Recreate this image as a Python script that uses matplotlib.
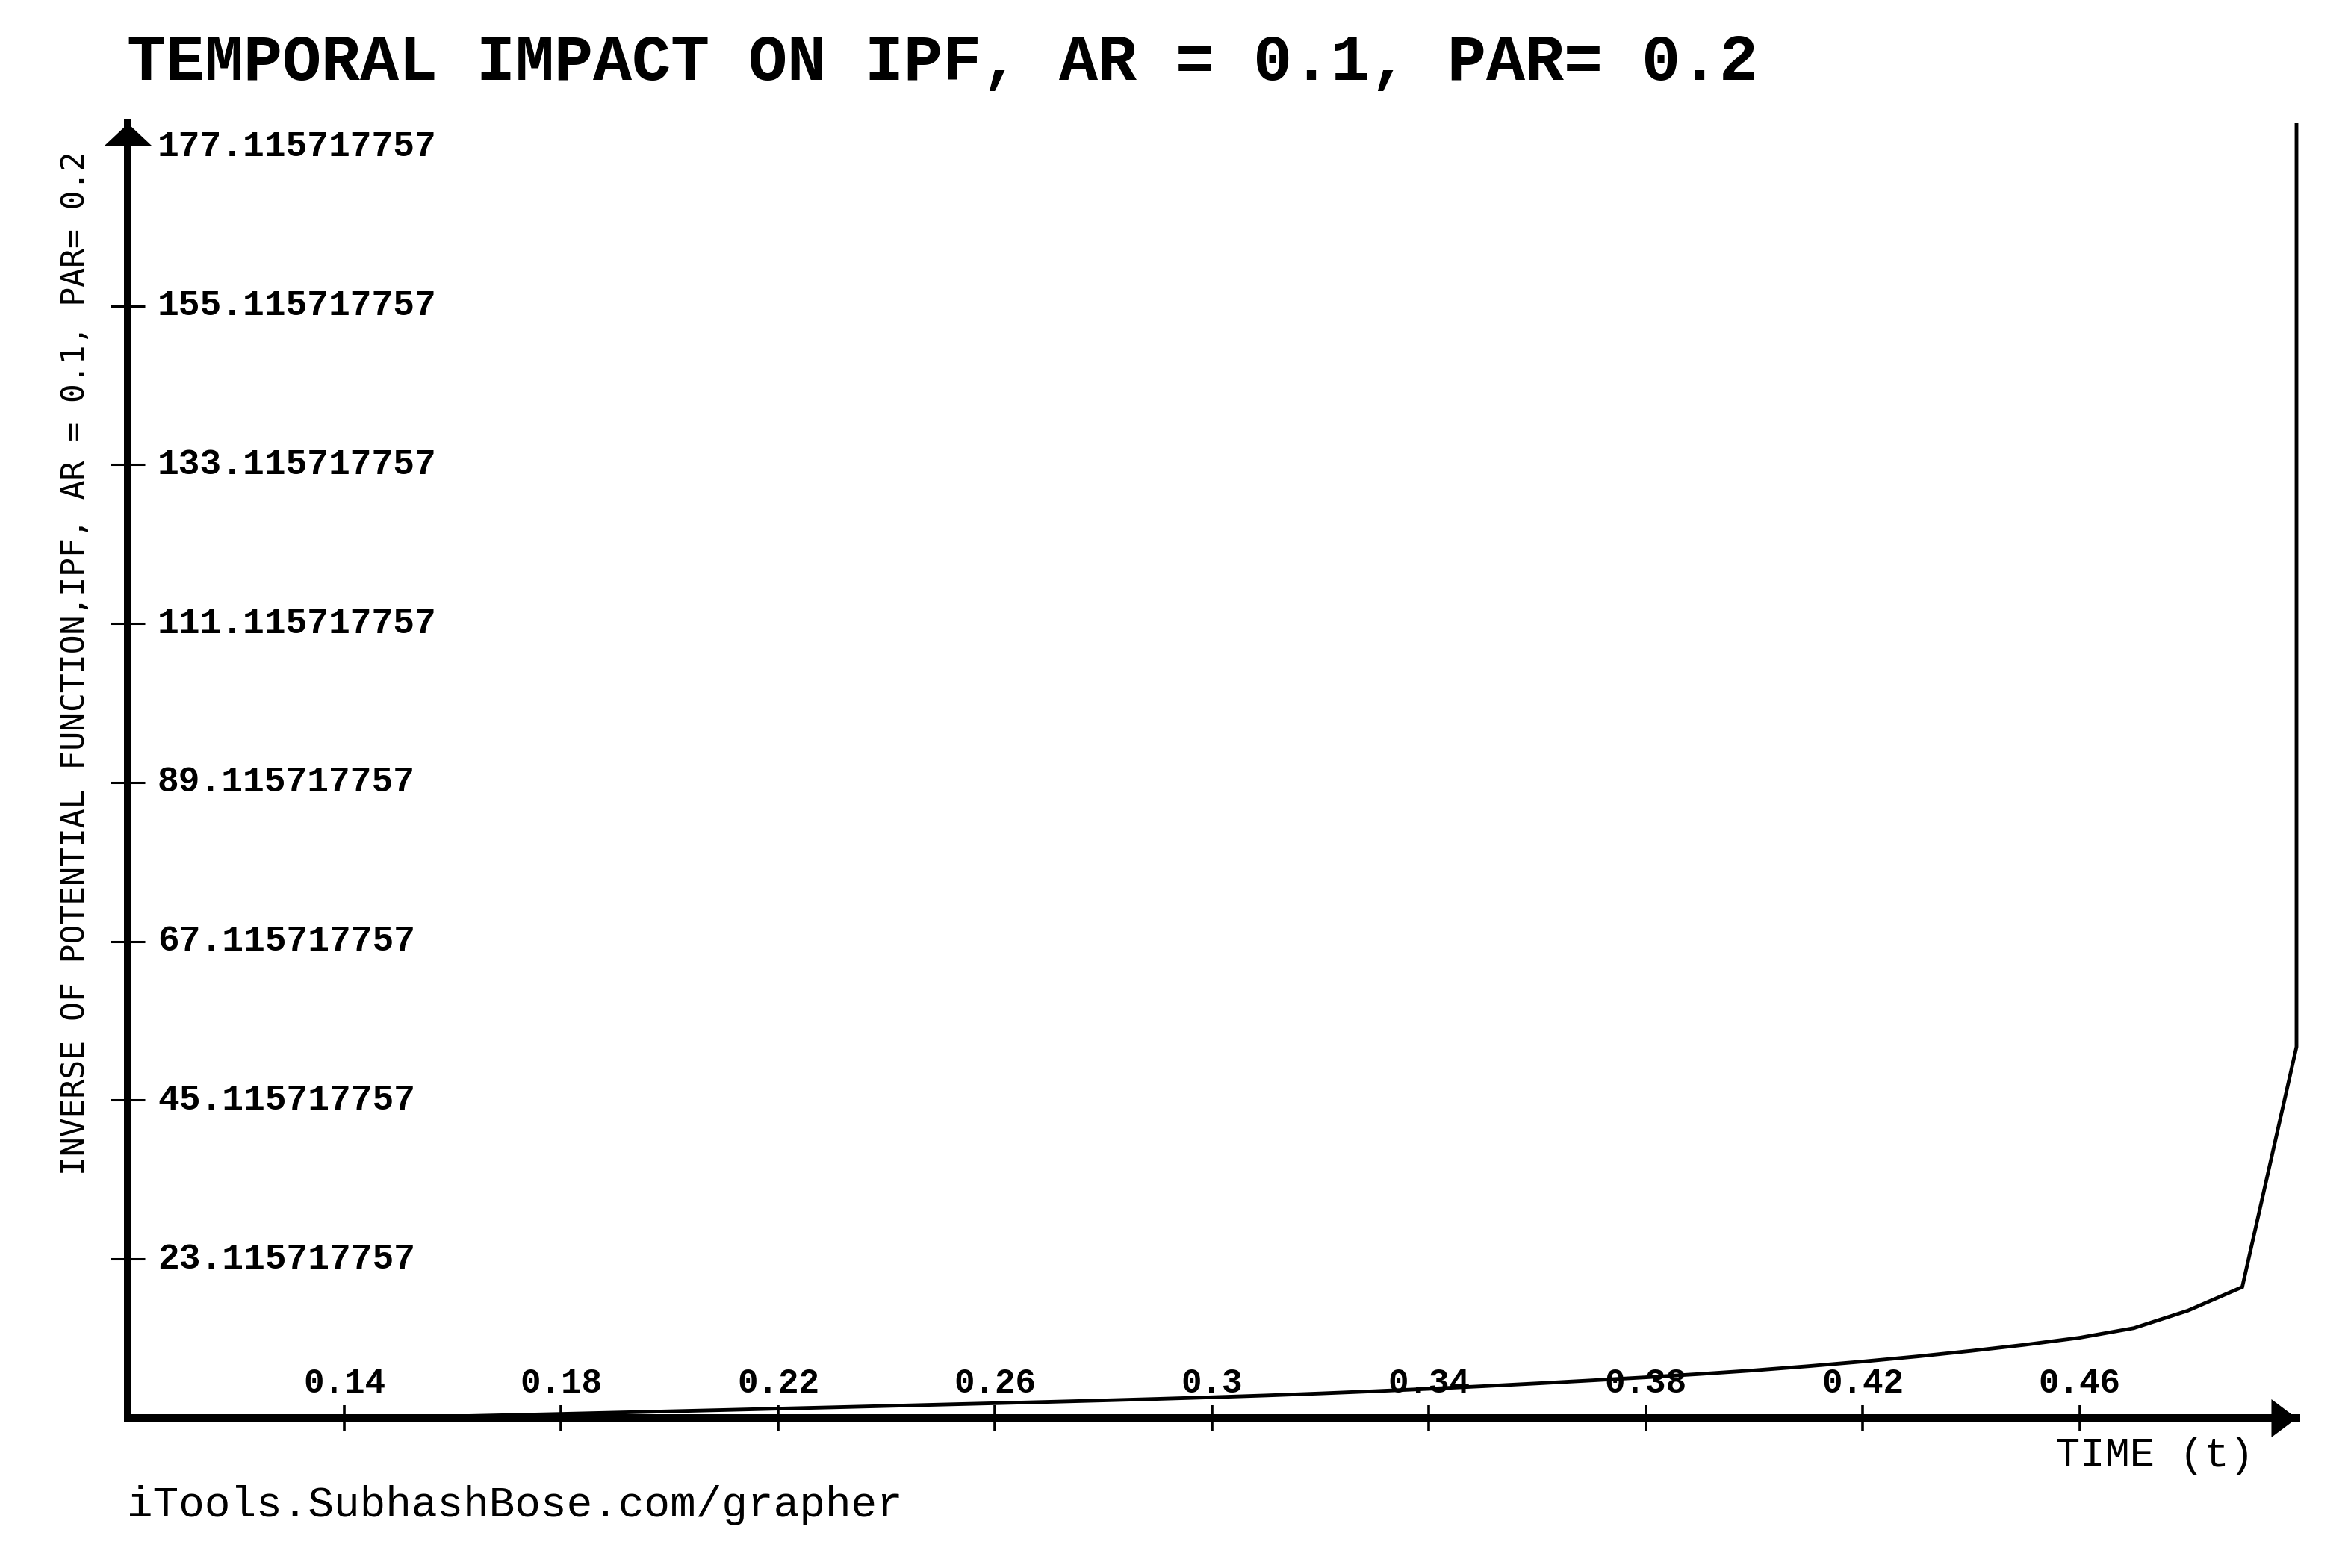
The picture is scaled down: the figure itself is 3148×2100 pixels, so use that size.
"""
Temporal impact on IPF (AR = 0.1, PAR = 0.2) - redraw of the grapher output.

Output: out.png
"""
import matplotlib
matplotlib.use("Agg")           # headless
import matplotlib.pyplot as plt
from matplotlib.path import Path

# ── Data ──────────────────────────────────────────────────────────────────────

TIME = [0.14, 0.15, 0.16, 0.17, 0.18, 0.19, 0.20, 0.21, 0.22, 0.23,
        0.24, 0.25, 0.26, 0.27, 0.28, 0.29, 0.30, 0.31, 0.32, 0.33,
        0.34, 0.35, 0.36, 0.37, 0.38, 0.39, 0.40, 0.41, 0.42, 0.43,
        0.44, 0.45, 0.46, 0.47, 0.48, 0.49, 0.50, 0.50]
IPF = [1.116, 1.20, 1.33, 1.50, 1.67, 1.85, 2.03, 2.21, 2.40, 2.58,
       2.77, 2.96, 3.15, 3.34, 3.54, 3.75, 3.98, 4.23, 4.51, 4.82,
       5.15, 5.51, 5.90, 6.31, 6.74, 7.20, 7.70, 8.28, 8.92, 9.62,
       10.40, 11.25, 12.22, 13.55, 15.98, 19.24, 52.5, 180.4]

X_TICKS  = [0.14, 0.18, 0.22, 0.26, 0.30, 0.34, 0.38, 0.42, 0.46]
X_LABELS = ["0.14", "0.18", "0.22", "0.26", "0.3", "0.34", "0.38", "0.42", "0.46"]

Y_TICKS  = [23.115717757, 45.115717757, 67.115717757, 89.115717757,
            111.115717757, 133.115717757, 155.115717757, 177.115717757]
Y_LABELS = ["23.115717757", "45.115717757", "67.115717757", "89.115717757",
            "111.115717757", "133.115717757", "155.115717757", "177.115717757"]

X_MIN, X_MAX = 0.1, 0.5
Y_MIN, Y_MAX = 1.115717757, 180.4

TITLE  = "TEMPORAL IMPACT ON IPF, AR = 0.1, PAR= 0.2"
YLABEL = "INVERSE OF POTENTIAL FUNCTION,IPF, AR = 0.1, PAR= 0.2"
XLABEL = "TIME (t)"
FOOTER = "iTools.SubhashBose.com/grapher"

# ── Figure ────────────────────────────────────────────────────────────────────

W, H = 3148, 2100
fig = plt.figure(figsize=(W / 100, H / 100), dpi=100)
fig.patch.set_facecolor("white")

ax = fig.add_axes([170.6 / W, 1 - 1899 / H, (3075 - 170.6) / W, (1899 - 165) / H])
ax.set_xlim(X_MIN, X_MAX)
ax.set_ylim(Y_MIN, Y_MAX)
ax.patch.set_alpha(0)

for side in ("top", "right"):
    ax.spines[side].set_visible(False)
for side in ("left", "bottom"):
    ax.spines[side].set_linewidth(7.2)
    ax.spines[side].set_color("black")
    ax.spines[side].set_capstyle("projecting")

ax.set_xticks(X_TICKS)
ax.set_xticklabels([])
ax.set_yticks(Y_TICKS[:-1])     # the top tick sits under the arrow head
ax.set_yticklabels([])
ax.tick_params(axis="x", direction="inout", length=24, width=2.6, color="black")
ax.tick_params(axis="y", direction="inout", length=33, width=2.2, color="black")

# arrow heads at the axis ends
arrow_x = Path([(0, 0), (-34, 25.5), (-34, -25.5), (0, 0)],
               [Path.MOVETO, Path.LINETO, Path.LINETO, Path.CLOSEPOLY])
arrow_y = Path([(0, 0), (-32, -30), (32, -30), (0, 0)],
               [Path.MOVETO, Path.LINETO, Path.LINETO, Path.CLOSEPOLY])
ax.plot([1], [0], transform=ax.transAxes, marker=arrow_x, markersize=49,
        color="black", markeredgewidth=0, clip_on=False, zorder=5)
ax.plot([0], [1], transform=ax.transAxes, marker=arrow_y, markersize=46,
        color="black", markeredgewidth=0, clip_on=False, zorder=5)

# ── Curve ─────────────────────────────────────────────────────────────────────

ax.plot(TIME, IPF, color="black", linewidth=3.5, clip_on=False, zorder=3,
        solid_joinstyle="miter", solid_capstyle="butt")

# ── Tick labels (inside the axes, grapher style) ─────────────────────────────

X_FONT = dict(family="Liberation Mono", fontweight="bold", fontsize=33, color="black")
Y_FONT = dict(family="Liberation Mono", fontweight="bold", fontsize=34.5, color="black")

for x, lab in zip(X_TICKS, X_LABELS):
    ax.annotate(lab, xy=(x, 0), xycoords=ax.get_xaxis_transform(),
                xytext=(0, 33), textcoords="offset points",
                ha="center", va="center", annotation_clip=False, **X_FONT)

for y, lab in zip(Y_TICKS, Y_LABELS):
    ax.annotate(lab, xy=(0, y), xycoords=ax.get_yaxis_transform(),
                xytext=(29, 0), textcoords="offset points",
                ha="left", va="center", annotation_clip=False, **Y_FONT)

# ── Titles ────────────────────────────────────────────────────────────────────

fig.text(170 / W, 1 - 84 / H, TITLE, family="Liberation Mono", fontweight="bold",
         fontsize=62.5, ha="left", va="center", color="black")
fig.text(101 / W, 1 - 888 / H, YLABEL, family="DejaVu Sans Mono", fontsize=31,
         rotation=90, ha="center", va="center", color="black")
fig.text(3018 / W, 1 - 1950 / H, XLABEL, family="Liberation Mono", fontsize=40,
         ha="right", va="center", color="black")
fig.text(170 / W, 1 - 2016 / H, FOOTER, family="Liberation Mono", fontsize=41.5,
         ha="left", va="center", color="black")

fig.savefig("out.png", dpi=100, facecolor="white")
plt.close(fig)
